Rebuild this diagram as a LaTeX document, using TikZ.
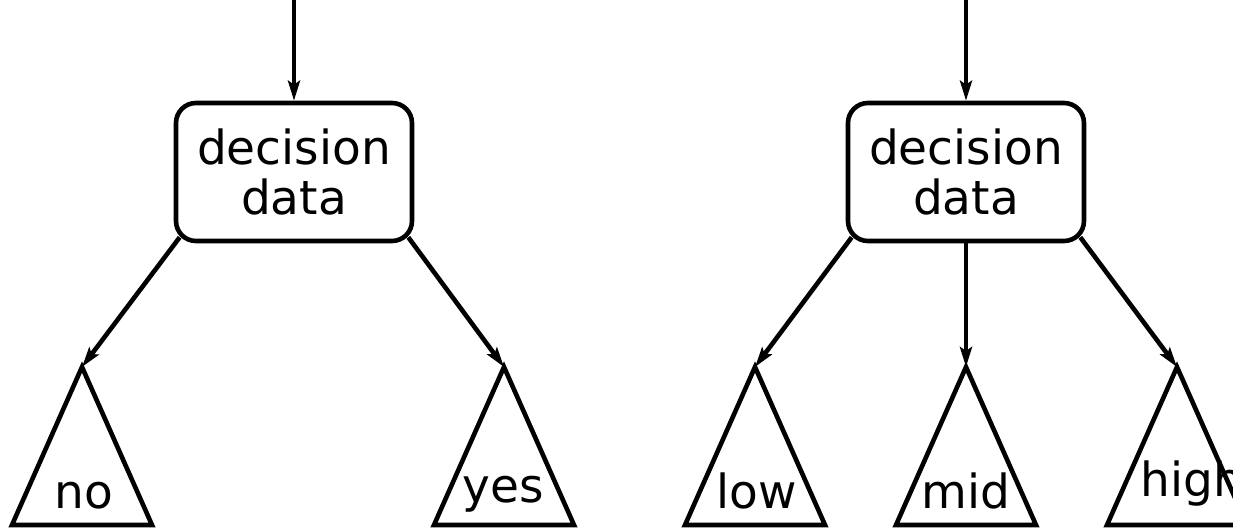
\documentclass[tikz,border=0pt]{standalone}
\usepackage{fontspec}
\setmainfont{DejaVu Sans}
\usetikzlibrary{arrows.meta,positioning,calc}

\begin{document}
\begin{tikzpicture}[x=0.5pt,y=-0.5pt,
    line width=2.3pt,
    >={Stealth[length=10pt,width=6pt,inset=2pt]},
    databox/.style={draw, rounded corners=10pt, minimum width=118pt,
      minimum height=69pt, align=center, inner sep=0pt,
      font=\fontsize{23.5}{25}\selectfont},
    leaf/.style={anchor=base, inner sep=0pt, font=\fontsize{23.5}{25}\selectfont}]
    \useasboundingbox (0,0) rectangle (1233,528);

    % Binary decision
    \coordinate (inA) at (294,0);
    \node[databox] (boxA) at (294,172) {decision\\data};
    \draw[->] (inA) -- (boxA);

    \coordinate (no) at (82,367);
    \coordinate (yes) at (504,367);
    \draw[->] ($(boxA.south west)+(6,-6)$) -- (no);
    \draw[->] ($(boxA.south east)+(-6,-6)$) -- (yes);
    \draw (no) -- ++(-70,158) -- ++(140,0) -- cycle;
    \draw (yes) -- ++(-70,158) -- ++(140,0) -- cycle;
    \node[leaf] (noText) at (84,509) {no};
    \node[leaf] (yesText) at (503,503) {yes};

    % Three-way decision
    \coordinate (inB) at (966,0);
    \node[databox] (boxB) at (966,172) {decision\\data};
    \draw[->] (inB) -- (boxB);

    \coordinate (low) at (755,367);
    \coordinate (mid) at (966,367);
    \coordinate (high) at (1177,367);
    \draw[->] ($(boxB.south west)+(6,-6)$) -- (low);
    \draw[->] (boxB) -- (mid);
    \draw[->] ($(boxB.south east)+(-6,-6)$) -- (high);
    \draw (low) -- ++(-70,158) -- ++(140,0) -- cycle;
    \draw (mid) -- ++(-70,158) -- ++(140,0) -- cycle;
    \draw (high) -- ++(-70,158) -- ++(140,0) -- cycle;
    \node[leaf] (lowText) at (757,509) {low};
    \node[leaf] (midText) at (966,509) {mid};
    \node[leaf] (highText) at (1192,497) {high};
\end{tikzpicture}
\end{document}
